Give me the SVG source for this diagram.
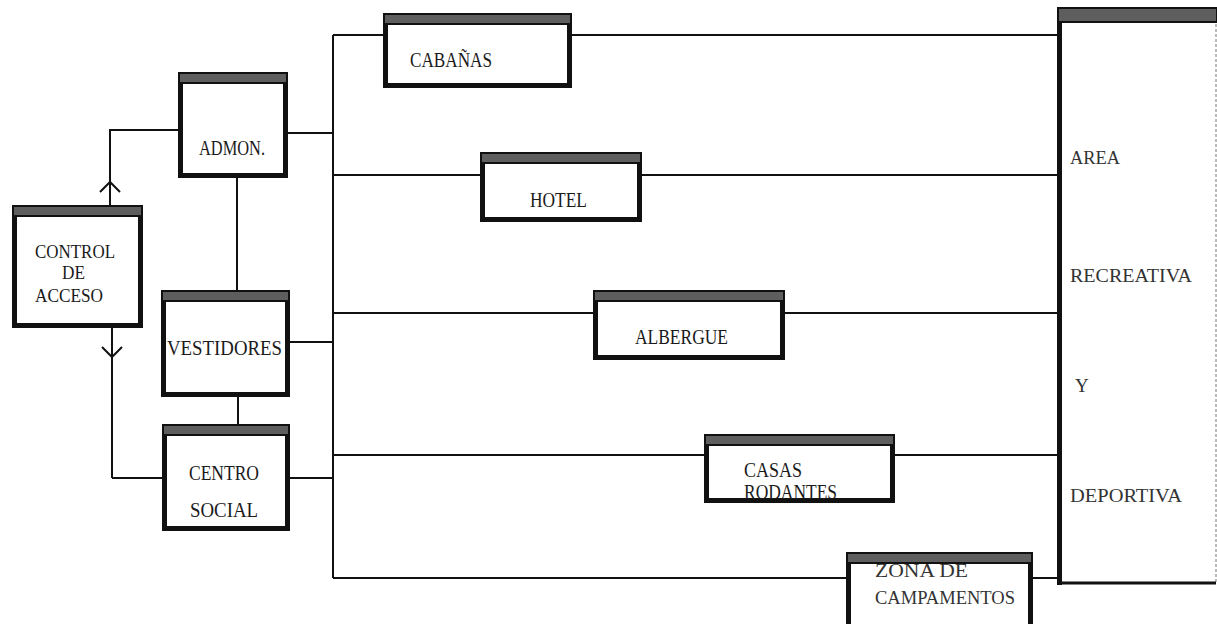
<svg xmlns="http://www.w3.org/2000/svg" width="1217" height="624" viewBox="0 0 1217 624">
<style>
.box{fill:#fff;stroke:#111;stroke-width:5}
.band{fill:#5e5e5e;stroke:#111;stroke-width:2}
.ln{fill:none;stroke:#111;stroke-width:2}
.t{font-family:"Liberation Serif",serif;font-size:20px;fill:#1a1a1a}
.ts{font-family:"Liberation Serif",serif;font-size:18px;fill:#1a1a1a}
.tl{font-family:"Liberation Serif",serif;font-size:19px;fill:#333}
</style>
<rect width="1217" height="624" fill="#fff"/>
<g id="connectors">
<path class="ln" d="M333 35V578"/>
<path class="ln" d="M333 35H383M572 35H1057"/>
<path class="ln" d="M288 133H333"/>
<path class="ln" d="M333 175H480M642 175H1057"/>
<path class="ln" d="M333 313H593M785 313H1057"/>
<path class="ln" d="M290 342H333"/>
<path class="ln" d="M333 455H704M895 455H1057"/>
<path class="ln" d="M290 478H333M112 478H162"/>
<path class="ln" d="M333 578H846M1033 578H1057"/>
<path class="ln" d="M237 178V290M238 397V424"/>
<path class="ln" d="M178 130H110V205"/>
<path class="ln" d="M112 328V478"/>
<polyline class="ln" stroke-width="3" points="100,192 110,182 120,192"/>
<polyline class="ln" stroke-width="3" points="102,347 112,357 122,347"/>
</g>
<g id="admon">
<rect class="box" x="180.5" y="74.5" width="105" height="101"/>
<rect class="band" x="179" y="73" width="108" height="10"/>
<text class="t" x="199" y="155" textLength="66" lengthAdjust="spacingAndGlyphs">ADMON.</text>
</g>
<g id="control">
<rect class="box" x="14.5" y="207.5" width="126" height="118"/>
<rect class="band" x="13" y="206" width="129" height="10"/>
<text class="ts" x="35" y="258" textLength="80" lengthAdjust="spacingAndGlyphs">CONTROL</text>
<text class="ts" x="62" y="279" textLength="23" lengthAdjust="spacingAndGlyphs">DE</text>
<text class="ts" x="35" y="302" textLength="68" lengthAdjust="spacingAndGlyphs">ACCESO</text>
</g>
<g id="vestidores">
<rect class="box" x="163.5" y="292.5" width="124" height="102"/>
<rect class="band" x="162" y="291" width="127" height="10"/>
<text class="t" x="167" y="355" textLength="115" lengthAdjust="spacingAndGlyphs">VESTIDORES</text>
</g>
<g id="centro">
<rect class="box" x="164.5" y="426.5" width="123" height="102"/>
<rect class="band" x="163" y="425" width="126" height="10"/>
<text class="t" x="189" y="480" textLength="70" lengthAdjust="spacingAndGlyphs">CENTRO</text>
<text class="t" x="190" y="517" textLength="68" lengthAdjust="spacingAndGlyphs">SOCIAL</text>
</g>
<g id="cabanas">
<rect class="box" x="385.5" y="15.5" width="184" height="70"/>
<rect class="band" x="384" y="14" width="187" height="10"/>
<text class="t" x="410" y="67" textLength="82" lengthAdjust="spacingAndGlyphs">CABAÑAS</text>
</g>
<g id="hotel">
<rect class="box" x="482.5" y="154.5" width="157" height="65"/>
<rect class="band" x="481" y="153" width="160" height="10"/>
<text class="t" x="530" y="207" textLength="57" lengthAdjust="spacingAndGlyphs">HOTEL</text>
</g>
<g id="albergue">
<rect class="box" x="595.5" y="292.5" width="187" height="65"/>
<rect class="band" x="594" y="291" width="190" height="10"/>
<text class="t" x="635" y="344" textLength="93" lengthAdjust="spacingAndGlyphs">ALBERGUE</text>
</g>
<g id="casas">
<rect class="box" x="706.5" y="436.5" width="186" height="64"/>
<rect class="band" x="705" y="435" width="189" height="10"/>
<text class="t" x="744" y="477" textLength="58" lengthAdjust="spacingAndGlyphs">CASAS</text>
<text class="t" x="744" y="499" textLength="93" lengthAdjust="spacingAndGlyphs">RODANTES</text>
</g>
<g id="zona">
<rect class="box" x="848.5" y="554.5" width="182" height="80"/>
<rect class="band" x="847" y="553" width="185" height="10"/>
<text class="tl" x="875" y="577" textLength="93" lengthAdjust="spacingAndGlyphs">ZONA DE</text>
<text class="tl" x="875" y="604" textLength="140" lengthAdjust="spacingAndGlyphs">CAMPAMENTOS</text>
</g>
<g id="area">
<rect x="1057" y="8" width="160" height="575" fill="#fff"/>
<path d="M1216 24V583" stroke="#777" stroke-width="1" stroke-dasharray="3,2" fill="none"/>
<path d="M1057 583H1216" stroke="#111" stroke-width="3" fill="none"/>
<path d="M1059.5 8V585" stroke="#111" stroke-width="5" fill="none"/>
<rect class="band" x="1058" y="8" width="159" height="14"/>
<text class="tl" x="1070" y="164" textLength="50" lengthAdjust="spacingAndGlyphs">AREA</text>
<text class="tl" x="1070" y="282" textLength="122" lengthAdjust="spacingAndGlyphs">RECREATIVA</text>
<text class="tl" x="1075" y="392">Y</text>
<text class="tl" x="1070" y="502" textLength="112" lengthAdjust="spacingAndGlyphs">DEPORTIVA</text>
</g>
</svg>
